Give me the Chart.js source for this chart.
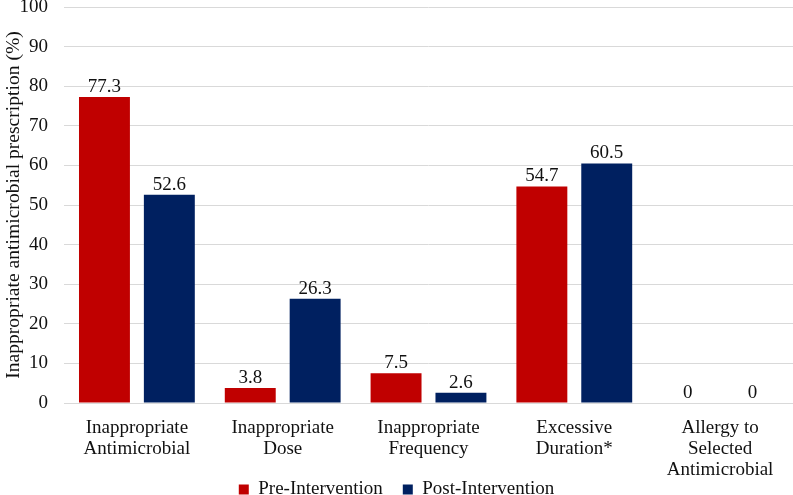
<!DOCTYPE html>
<html>
<head>
<meta charset="utf-8">
<script src="https://cdn.jsdelivr.net/npm/chart.js@4/dist/chart.umd.min.js"></script>
<style>
  html, body { margin: 0; padding: 0; background: #fff; }
  #wrap { width: 793px; height: 495px; }
</style>
</head>
<body>
<div id="wrap"><canvas id="chart"></canvas></div>
<script>
// datos del grafico
const categories = [
  ['Inappropriate', 'Antimicrobial'],
  ['Inappropriate', 'Dose'],
  ['Inappropriate', 'Frequency'],
  ['Excessive', 'Duration*'],
  ['Allergy to', 'Selected', 'Antimicrobial']
];
const preValues = [77.3, 3.8, 7.5, 54.7, 0];
const postValues = [52.6, 26.3, 2.6, 60.5, 0];
const yTicks = [0, 10, 20, 30, 40, 50, 60, 70, 80, 90, 100];

const serif = '"Liberation Serif", "Times New Roman", serif';

// etiquetas de valor encima de cada barra
const valueLabels = {
  id: 'valueLabels',
  afterDatasetsDraw(chart) {
    const ctx = chart.ctx;
    ctx.save();
    ctx.font = '19px ' + serif;
    ctx.fillStyle = '#111';
    ctx.textAlign = 'center';
    ctx.textBaseline = 'alphabetic';
    chart.data.datasets.forEach((ds, i) => {
      chart.getDatasetMeta(i).data.forEach((bar, j) => {
        ctx.fillText(String(ds.data[j]), bar.x, bar.y - 5);
      });
    });
    ctx.restore();
  }
};

// las etiquetas del eje x pueden bajar hasta la zona de la leyenda (como en Excel)
const unclipTicks = {
  id: 'unclipTicks',
  afterLayout(chart) {
    chart.scales.x.bottom = chart.height;
  }
};

new Chart(document.getElementById('chart'), {
  type: 'bar',
  data: {
    labels: categories,
    datasets: [
      { label: 'Pre-Intervention', data: preValues, backgroundColor: '#C00000' },
      { label: 'Post-Intervention', data: postValues, backgroundColor: '#002060' }
    ]
  },
  options: {
    responsive: true,
    maintainAspectRatio: false,
    animation: false,
    categoryPercentage: 0.89,
    barPercentage: 0.785,
    layout: { autoPadding: false, padding: { left: 0, right: 0, top: 7, bottom: 0 } },
    plugins: {
      legend: {
        position: 'bottom',
        maxHeight: 35,
        labels: {
          font: { family: serif, size: 19 },
          color: '#111',
          boxWidth: 10,
          boxHeight: 10,
          padding: 20
        }
      },
      tooltip: { enabled: false }
    },
    scales: {
      x: {
        grid: { display: false, drawTicks: false },
        border: { color: '#d9d9d9' },
        ticks: {
          font: { family: serif, size: 19, lineHeight: 1.1 },
          color: '#111',
          maxRotation: 0,
          autoSkip: false,
          padding: 15
        },
        afterFit: (scale) => {
          scale.height = 57;
          scale.paddingLeft = 0;
          scale.paddingRight = 0;
        }
      },
      y: {
        min: 0,
        max: 100,
        afterBuildTicks: (axis) => { axis.ticks = yTicks.map((v) => ({ value: v })); },
        grid: { color: '#d9d9d9', drawTicks: false },
        border: { display: false },
        ticks: {
          font: { family: serif, size: 19 },
          color: '#111',
          padding: 16
        },
        title: {
          display: true,
          text: 'Inappropriate antimicrobial prescription (%)',
          font: { family: serif, size: 19.6 },
          color: '#111',
          padding: { top: 2, bottom: 0 }
        },
        afterFit: (scale) => {
          scale.width = 64;
          scale.paddingTop = 0;
          scale.paddingBottom = 0;
        }
      }
    }
  },
  plugins: [valueLabels, unclipTicks]
});
</script>
</body>
</html>
